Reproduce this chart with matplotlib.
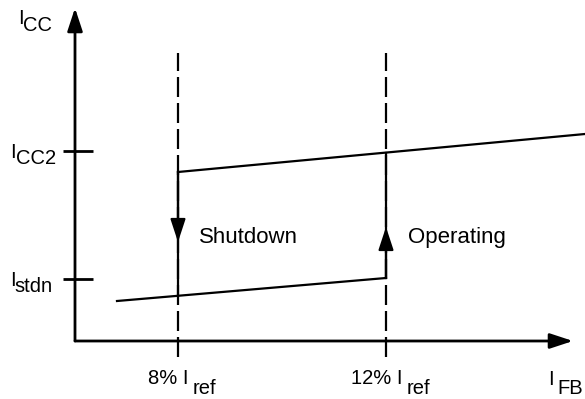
import matplotlib
matplotlib.use('Agg')
import matplotlib.pyplot as plt
from matplotlib.patches import FancyArrowPatch

plt.rcParams['font.family'] = ['Liberation Sans', 'DejaVu Sans']

# diagram units: origin at the corner of the axes, y up
x_axis_end = 498
y_axis_end = 333

x_stops = [103, 311]                 # 8% Iref, 12% Iref
stop_labels = ['8% I', '12% I']
dash_span = [-16, 288]

upper_x = [103, 510]
upper_y = [169, 207]
lower_x = [42, 311]
lower_y = [40, 63]

tick_levels = [190, 62]              # ICC2, Istdn
tick_main = ['I', 'I']
tick_sub = ['CC2', 'stdn']

jump_down = [169, 99]                # shutdown transition at 8%
jump_up = [63, 114]                  # operating transition at 12%

fig = plt.figure(figsize=(5.85, 3.99), dpi=100)
ax = fig.add_axes([0, 0, 1, 1])
ax.set_xlim(-75, 510)
ax.set_ylim(-58, 341)
ax.set_aspect('equal')
ax.axis('off')

K = 'black'
FS = 14.5


def arrow(p0, p1, lw):
  a = FancyArrowPatch(p0, p1, arrowstyle='-|>,head_length=14,head_width=4.6',
                      mutation_scale=1, color=K, lw=lw, shrinkA=0, shrinkB=0)
  ax.add_patch(a)


# axes
arrow((0, 0), (0, y_axis_end), 2.0)
arrow((0, 0), (x_axis_end, 0), 2.0)

# tick marks on the y axis
for lv in tick_levels:
  ax.plot([-12, 18], [lv, lv], color=K, lw=2.0, solid_capstyle='butt')

# dashed threshold lines
for xs in x_stops:
  ax.plot([xs, xs], dash_span, color=K, lw=1.6, dashes=(9, 2.7))

# operating and shutdown current lines
ax.plot(upper_x, upper_y, color=K, lw=1.6)
ax.plot(lower_x, lower_y, color=K, lw=1.6)

# transitions
ax.plot([x_stops[0]] * 2, [jump_down[0], lower_y[0] + (lower_y[1] - lower_y[0]) *
        (x_stops[0] - lower_x[0]) / (lower_x[1] - lower_x[0])], color=K, lw=1.6)
arrow((x_stops[0], jump_down[0]), (x_stops[0], jump_down[1]), 1.6)
arrow((x_stops[1], jump_up[0]), (x_stops[1], jump_up[1]), 1.6)
ax.plot([x_stops[1]] * 2, [jump_up[0], 188], color=K, lw=1.6)

ax.text(124, 98, 'Shutdown', fontsize=16, va='baseline', ha='left')
ax.text(333, 98, 'Operating', fontsize=16, va='baseline', ha='left')

# axis labels
ax.text(-57, 317, 'I', fontsize=FS, va='baseline')
ax.text(-52, 310, 'CC', fontsize=FS, va='baseline')
for lv, m, s in zip(tick_levels, tick_main, tick_sub):
  ax.text(-65, lv - 7, m, fontsize=FS, va='baseline')
  ax.text(-59 if s == 'CC2' else -61, lv - 13, s, fontsize=FS, va='baseline')

ax.text(73, -43, stop_labels[0], fontsize=FS, va='baseline')
ax.text(118, -53, 'ref', fontsize=FS, va='baseline')
ax.text(276, -43, stop_labels[1], fontsize=FS, va='baseline')
ax.text(332, -53, 'ref', fontsize=FS, va='baseline')
ax.text(473, -44, 'I', fontsize=FS, va='baseline')
ax.text(482, -53, 'FB', fontsize=FS, va='baseline')

fig.savefig('out.png', dpi=100, facecolor='white')
